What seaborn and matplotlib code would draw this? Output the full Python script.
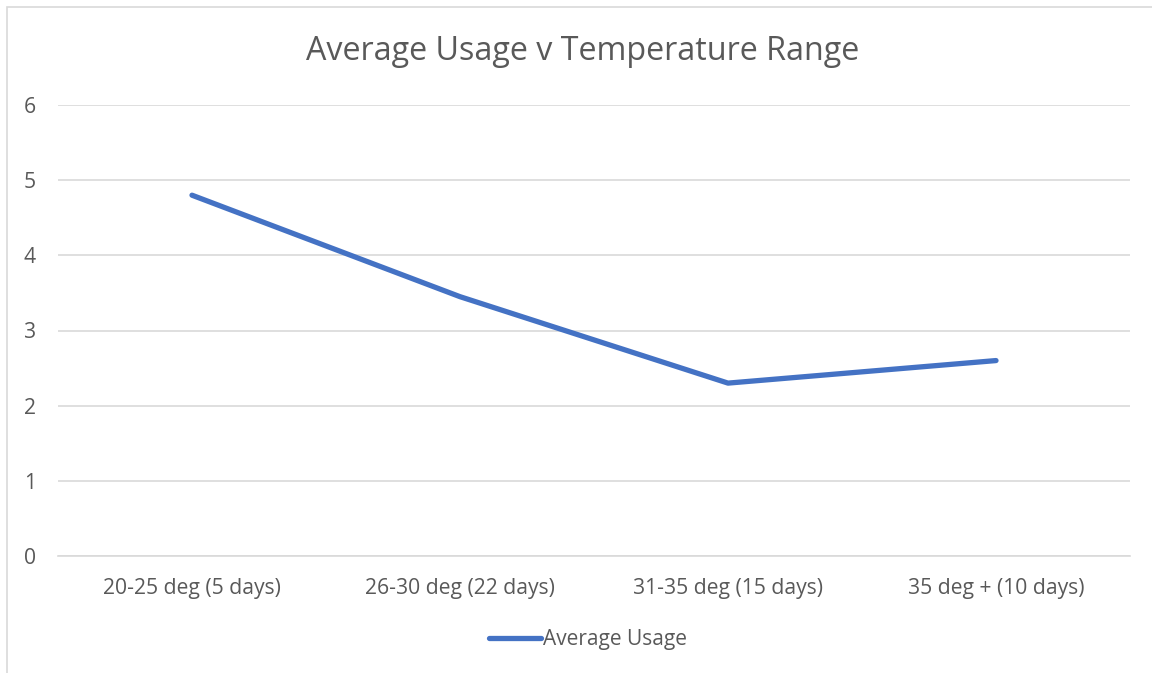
import matplotlib
matplotlib.use("Agg")
import matplotlib.pyplot as plt
import seaborn as sns
import pandas as pd
from matplotlib.patches import Rectangle

categories = ["20-25 deg (5 days)", "26-30 deg (22 days)", "31-35 deg (15 days)", "35 deg + (10 days)"]
average_usage = [4.8, 3.45, 2.3, 2.6]
y_ticks = [0, 1, 2, 3, 4, 5, 6]

sns.set_theme(style="white")
plt.rcParams['font.family'] = ['Open Sans', 'DejaVu Sans']

df = pd.DataFrame({"Range": categories, "Average Usage": average_usage})

fig = plt.figure(figsize=(11.52, 6.73), dpi=100)
ax = fig.add_axes([58/1152, 1-556/673, (1130-58)/1152, (556-105)/673])

sns.lineplot(data=df, x="Range", y="Average Usage", ax=ax, color="#4472C4",
             linewidth=3.8, sort=False, solid_capstyle="round", label="Average Usage", legend=False)

ax.set_xlim(-0.5, len(categories) - 0.5)
ax.set_ylim(0, 6)
ax.set_yticks(y_ticks)
ax.set_yticklabels([str(t) for t in y_ticks])
ax.grid(axis="y", color="#D9D9D9", linewidth=1.2)
ax.set_axisbelow(True)
for s in ["top", "right", "left"]:
    ax.spines[s].set_visible(False)
ax.spines["bottom"].set_color("#D9D9D9")
ax.spines["bottom"].set_linewidth(1.2)
ax.tick_params(axis="both", length=0, labelcolor="#595959", labelsize=15.2)
ax.tick_params(axis="y", pad=16)
ax.tick_params(axis="x", pad=16)
ax.set_xlabel("")
ax.set_ylabel("")

fig.text(583/1152, 1-51/673, "Average Usage v Temperature Range", ha="center", va="center",
         fontsize=23.2, color="#595959")

# legend
handles, labels = ax.get_legend_handles_labels()
fig.legend(handles, labels, loc="center", bbox_to_anchor=(588/1152, 1-640/673), frameon=False,
           fontsize=15, labelcolor="#595959", handlelength=2.5, handletextpad=0.1)

fig.patches.append(Rectangle((7/1152, -0.1), 1.2, 1-7/673+0.1, transform=fig.transFigure,
                             fill=False, edgecolor="#D9D9D9", linewidth=1.2))

fig.savefig("out.png", dpi=100)
